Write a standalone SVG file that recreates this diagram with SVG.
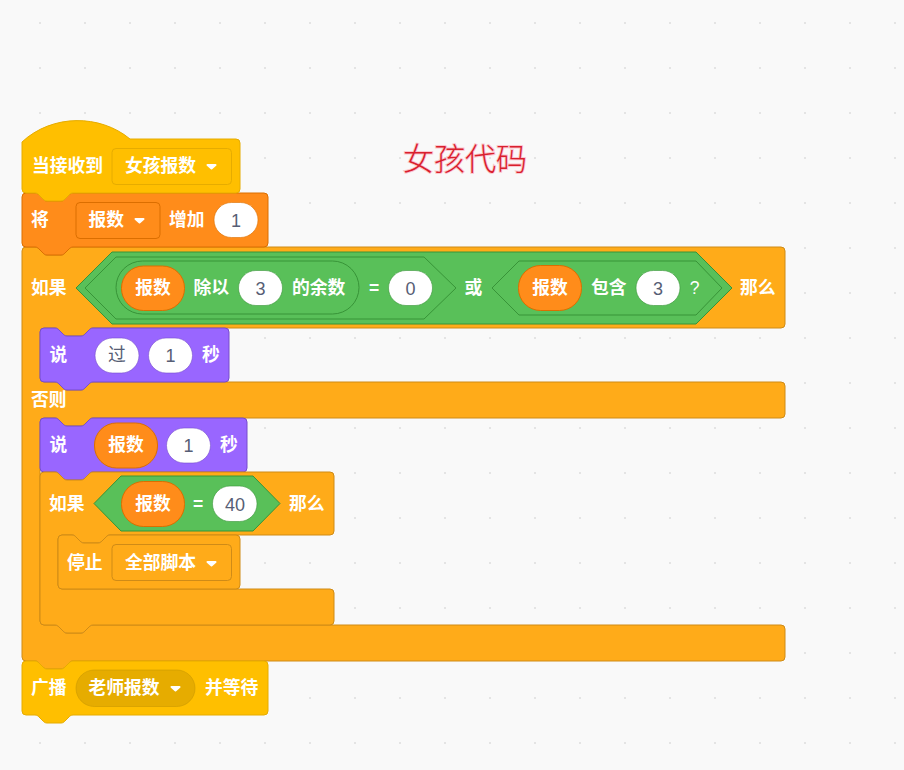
<svg xmlns="http://www.w3.org/2000/svg" width="904" height="770" viewBox="0 0 904 770">
<style>
.t{font-family:"Noto Sans CJK SC","Noto Sans",sans-serif;font-size:17.800px;font-weight:700;fill:#fff}
.m{text-anchor:middle}
.n{font-family:"Liberation Sans",Arial,sans-serif;font-size:18px;fill:#575E75;text-anchor:middle}
.v{font-family:"Noto Sans CJK SC",sans-serif;font-size:17.800px;fill:#575E75;text-anchor:middle}
.s{font-family:"Liberation Sans",Arial,sans-serif;font-size:17.500px;fill:#fff;text-anchor:middle}
.b2{font-weight:700}
.ev{fill:#FFBF00;stroke:#E6AC00}
.va{fill:#FF8C1A;stroke:#DB6E00}
.ct{fill:#FFAB19;stroke:#CF8B17}
.lo{fill:#9966FF;stroke:#774DCB}
.op{fill:#59C059;stroke:#389438}
.in{fill:#fff;stroke-width:1;stroke-opacity:.6}
.b{stroke-width:1}
.ar{fill:#fff;stroke:#fff;stroke-width:2;stroke-linejoin:round}
</style>
<defs>
<pattern id="grid" x="39" y="22" width="45" height="45" patternUnits="userSpaceOnUse"><rect width="2" height="2" fill="#e4e4e4"/></pattern>
<path id="arrow" class="ar" d="M1 1h8l-4 3.500z"/>
</defs>
<rect width="904" height="770" fill="#F9F9F9"/>
<rect width="904" height="770" fill="url(#grid)"/>

<g id="title">
<text x="403" y="170" font-family="'Noto Sans CJK SC',sans-serif" font-size="31" font-weight="300" fill="#D9202E" stroke="#ff8a9a" stroke-opacity=".45" stroke-width="2" paint-order="stroke">女孩代码</text>
</g>

<g id="block-outer-if">
<path class="ct b" d="M22 251a4 4 0 0 1 4-4H35c2 0 3 1 4 2l4 4c1 1 2 2 4 2h14c2 0 3-1 4-2l4-4c1-1 2-2 4-2H781a4 4 0 0 1 4 4V324a4 4 0 0 1-4 4H93c-2 0-3 1-4 2l-4 4c-1 1-2 2-4 2h-14c-2 0-3-1-4-2l-4-4c-1-1-2-2-4-2H44a4 4 0 0 0-4 4V378a4 4 0 0 0 4 4H55c2 0 3 1 4 2l4 4c1 1 2 2 4 2h14c2 0 3-1 4-2l4-4c1-1 2-2 4-2H781a4 4 0 0 1 4 4V414a4 4 0 0 1-4 4H93c-2 0-3 1-4 2l-4 4c-1 1-2 2-4 2h-14c-2 0-3-1-4-2l-4-4c-1-1-2-2-4-2H44a4 4 0 0 0-4 4V621a4 4 0 0 0 4 4H55c2 0 3 1 4 2l4 4c1 1 2 2 4 2h14c2 0 3-1 4-2l4-4c1-1 2-2 4-2H781a4 4 0 0 1 4 4V657a4 4 0 0 1-4 4H73c-2 0-3 1-4 2l-4 4c-1 1-2 2-4 2h-14c-2 0-3-1-4-2l-4-4c-1-1-2-2-4-2H26a4 4 0 0 1-4-4Z"/>
<text class="t" x="31" y="294">如果</text>
<text class="t" x="31" y="406">否则</text>
<text class="t" x="740" y="294">那么</text>
</g>

<g id="bool-or">
<path class="op b" d="M112 252H696L732 288L696 324H112L76 288Z"/>
<text class="t m" x="473.500" y="294">或</text>
</g>

<g id="bool-equals-mod">
<path class="op b" d="M116 257H424L456 288L424 319H116L85 288Z"/>
<rect class="op b" x="116" y="261" width="243" height="53" rx="26.500"/>
<rect class="va b" x="121.500" y="266" width="63" height="44.500" rx="22"/>
<text class="t m" x="153" y="294">报数</text>
<text class="t" x="193.500" y="294">除以</text>
<rect class="in" stroke="#389438" x="238.500" y="270.500" width="44" height="35" rx="17.500"/>
<text class="n" x="260.500" y="294.500">3</text>
<text class="t" x="292" y="294">的余数</text>
<text class="s b2" x="374" y="294">=</text>
<rect class="in" stroke="#389438" x="388.500" y="270.500" width="44" height="35" rx="17.500"/>
<text class="n" x="410.500" y="294.500">0</text>
</g>

<g id="bool-contains">
<path class="op b" d="M519 261H696L722 288L696 315H519L492 288Z"/>
<rect class="va b" x="518.500" y="265.500" width="63" height="45" rx="22"/>
<text class="t m" x="550" y="294">报数</text>
<text class="t" x="591" y="294">包含</text>
<rect class="in" stroke="#389438" x="636" y="270.500" width="44" height="35" rx="17.500"/>
<text class="n" x="658" y="294.500">3</text>
<text class="s" x="694.500" y="294">?</text>
</g>

<g id="block-say-1">
<path class="lo b" d="M40 332a4 4 0 0 1 4-4H55c2 0 3 1 4 2l4 4c1 1 2 2 4 2h14c2 0 3-1 4-2l4-4c1-1 2-2 4-2H225a4 4 0 0 1 4 4V378a4 4 0 0 1-4 4H93c-2 0-3 1-4 2l-4 4c-1 1-2 2-4 2h-14c-2 0-3-1-4-2l-4-4c-1-1-2-2-4-2H44a4 4 0 0 1-4-4Z"/>
<text class="t" x="49.500" y="361">说</text>
<rect class="in" stroke="#774DCB" x="95" y="338" width="44" height="35" rx="17.500"/>
<text class="v" x="117" y="361">过</text>
<rect class="in" stroke="#774DCB" x="148.500" y="338" width="44" height="35" rx="17.500"/>
<text class="n" x="170.500" y="361.500">1</text>
<text class="t" x="202" y="361">秒</text>
</g>

<g id="block-say-2">
<path class="lo b" d="M40 422a4 4 0 0 1 4-4H55c2 0 3 1 4 2l4 4c1 1 2 2 4 2h14c2 0 3-1 4-2l4-4c1-1 2-2 4-2H243a4 4 0 0 1 4 4V468a4 4 0 0 1-4 4H93c-2 0-3 1-4 2l-4 4c-1 1-2 2-4 2h-14c-2 0-3-1-4-2l-4-4c-1-1-2-2-4-2H44a4 4 0 0 1-4-4Z"/>
<text class="t" x="49.500" y="451">说</text>
<rect class="va b" x="94.500" y="423" width="63" height="45" rx="22"/>
<text class="t m" x="126" y="451">报数</text>
<rect class="in" stroke="#774DCB" x="166.500" y="428" width="44" height="35" rx="17.500"/>
<text class="n" x="188.500" y="451.500">1</text>
<text class="t" x="220" y="451">秒</text>
</g>

<g id="block-inner-if">
<path class="ct b" d="M40 476a4 4 0 0 1 4-4H55c2 0 3 1 4 2l4 4c1 1 2 2 4 2h14c2 0 3-1 4-2l4-4c1-1 2-2 4-2H330a4 4 0 0 1 4 4V531a4 4 0 0 1-4 4H110c-2 0-3 1-4 2l-4 4c-1 1-2 2-4 2h-14c-2 0-3-1-4-2l-4-4c-1-1-2-2-4-2H62a4 4 0 0 0-4 4V585a4 4 0 0 0 4 4H330a4 4 0 0 1 4 4V621a4 4 0 0 1-4 4H93c-2 0-3 1-4 2l-4 4c-1 1-2 2-4 2h-14c-2 0-3-1-4-2l-4-4c-1-1-2-2-4-2H44a4 4 0 0 1-4-4Z"/>
<text class="t" x="49" y="510">如果</text>
<text class="t" x="289" y="510">那么</text>
</g>

<g id="bool-equals-40">
<path class="op b" d="M121 476H253L280 503.500L253 531H121L94 503.500Z"/>
<rect class="va b" x="121.500" y="481.500" width="63" height="45" rx="22"/>
<text class="t m" x="153" y="510">报数</text>
<text class="s b2" x="198" y="510">=</text>
<rect class="in" stroke="#389438" x="212.500" y="486" width="44.500" height="35.500" rx="17.500"/>
<text class="n" x="235" y="510.500">40</text>
</g>

<g id="block-stop">
<path class="ct b" d="M58 539a4 4 0 0 1 4-4H72c2 0 3 1 4 2l4 4c1 1 2 2 4 2h14c2 0 3-1 4-2l4-4c1-1 2-2 4-2H236a4 4 0 0 1 4 4V585a4 4 0 0 1-4 4H62a4 4 0 0 1-4-4Z"/>
<text class="t" x="67" y="569">停止</text>
<rect class="ct b" x="112" y="544.500" width="119.500" height="36" rx="4"/>
<text class="t" x="125" y="569">全部脚本</text>
<use href="#arrow" x="206.500" y="561"/>
</g>

<g id="block-broadcast">
<path class="ev b" d="M22 665a4 4 0 0 1 4-4H35c2 0 3 1 4 2l4 4c1 1 2 2 4 2h14c2 0 3-1 4-2l4-4c1-1 2-2 4-2H264a4 4 0 0 1 4 4V711a4 4 0 0 1-4 4H73c-2 0-3 1-4 2l-4 4c-1 1-2 2-4 2h-14c-2 0-3-1-4-2l-4-4c-1-1-2-2-4-2H26a4 4 0 0 1-4-4Z"/>
<text class="t" x="31" y="694">广播</text>
<rect x="76" y="670" width="119" height="36.500" rx="18.250" fill="#E6AC00" stroke="#CC9900" stroke-opacity=".6"/>
<text class="t" x="88.500" y="694">老师报数</text>
<use href="#arrow" x="170.500" y="686"/>
<text class="t" x="205" y="694">并等待</text>
</g>

<g id="block-change-var">
<path class="va b" d="M22 197a4 4 0 0 1 4-4H35c2 0 3 1 4 2l4 4c1 1 2 2 4 2h14c2 0 3-1 4-2l4-4c1-1 2-2 4-2H264a4 4 0 0 1 4 4V243a4 4 0 0 1-4 4H73c-2 0-3 1-4 2l-4 4c-1 1-2 2-4 2h-14c-2 0-3-1-4-2l-4-4c-1-1-2-2-4-2H26a4 4 0 0 1-4-4Z"/>
<text class="t" x="31" y="226">将</text>
<rect class="va b" x="76" y="202.500" width="84" height="36" rx="4"/>
<text class="t" x="88.500" y="226">报数</text>
<use href="#arrow" x="134.500" y="218"/>
<text class="t" x="169" y="226">增加</text>
<rect class="in" stroke="#DB6E00" x="214" y="202.500" width="44" height="35" rx="17.500"/>
<text class="n" x="236" y="226.500">1</text>
</g>

<g id="block-hat">
<path class="ev b" d="M22 142c30-28 78-28 108-3H236a4 4 0 0 1 4 4V189a4 4 0 0 1-4 4H73c-2 0-3 1-4 2l-4 4c-1 1-2 2-4 2h-14c-2 0-3-1-4-2l-4-4c-1-1-2-2-4-2H26a4 4 0 0 1-4-4Z"/>
<text class="t" x="32" y="172">当接收到</text>
<rect class="ev b" x="112" y="148.500" width="119.500" height="36" rx="4"/>
<text class="t" x="125" y="172">女孩报数</text>
<use href="#arrow" x="206.500" y="164"/>
</g>
</svg>
